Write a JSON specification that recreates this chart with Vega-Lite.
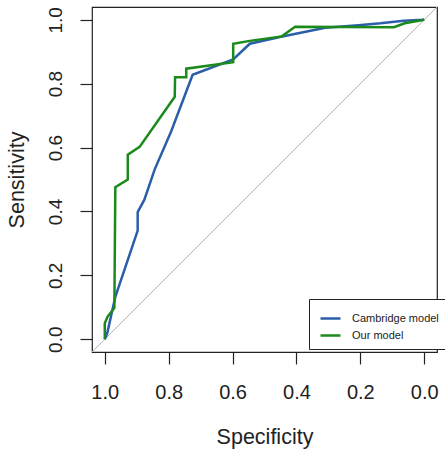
{
  "$schema": "https://vega.github.io/schema/vega-lite/v6.json",
  "width": 345,
  "height": 345,
  "autosize": {"type": "none"},
  "padding": {"left": 92, "top": 7, "right": 8, "bottom": 102},
  "background": "white",
  "config": {
    "font": "Liberation Sans",
    "view": {"stroke": "#222222", "strokeWidth": 1.2},
    "axis": {"grid": false, "domain": false, "tickColor": "#222222", "tickSize": 12, "tickWidth": 1.2, "labelColor": "#222222", "titleColor": "#222222", "labelFont": "Liberation Sans", "titleFont": "Liberation Sans", "titleFontWeight": "normal"}
  },
  "datasets": {
    "roc": [
      {"model": "Cambridge model", "i": 1, "spec": 1.0, "sens": 0.0},
      {"model": "Cambridge model", "i": 2, "spec": 0.992, "sens": 0.02},
      {"model": "Cambridge model", "i": 3, "spec": 0.967, "sens": 0.133},
      {"model": "Cambridge model", "i": 4, "spec": 0.897, "sens": 0.34},
      {"model": "Cambridge model", "i": 5, "spec": 0.897, "sens": 0.398},
      {"model": "Cambridge model", "i": 6, "spec": 0.876, "sens": 0.437},
      {"model": "Cambridge model", "i": 7, "spec": 0.844, "sens": 0.531},
      {"model": "Cambridge model", "i": 8, "spec": 0.792, "sens": 0.651},
      {"model": "Cambridge model", "i": 9, "spec": 0.725, "sens": 0.828},
      {"model": "Cambridge model", "i": 10, "spec": 0.598, "sens": 0.876},
      {"model": "Cambridge model", "i": 11, "spec": 0.546, "sens": 0.925},
      {"model": "Cambridge model", "i": 12, "spec": 0.448, "sens": 0.947},
      {"model": "Cambridge model", "i": 13, "spec": 0.31, "sens": 0.975},
      {"model": "Cambridge model", "i": 14, "spec": 0.206, "sens": 0.983},
      {"model": "Cambridge model", "i": 15, "spec": 0.137, "sens": 0.989},
      {"model": "Cambridge model", "i": 16, "spec": 0.064, "sens": 0.997},
      {"model": "Cambridge model", "i": 17, "spec": 0.0, "sens": 1.0},
      {"model": "Our model", "i": 1, "spec": 1.0, "sens": 0.0},
      {"model": "Our model", "i": 2, "spec": 1.0, "sens": 0.05},
      {"model": "Our model", "i": 3, "spec": 0.991, "sens": 0.071},
      {"model": "Our model", "i": 4, "spec": 0.97, "sens": 0.098},
      {"model": "Our model", "i": 5, "spec": 0.967, "sens": 0.476},
      {"model": "Our model", "i": 6, "spec": 0.928, "sens": 0.5},
      {"model": "Our model", "i": 7, "spec": 0.928, "sens": 0.578},
      {"model": "Our model", "i": 8, "spec": 0.891, "sens": 0.602},
      {"model": "Our model", "i": 9, "spec": 0.781, "sens": 0.759},
      {"model": "Our model", "i": 10, "spec": 0.78, "sens": 0.82},
      {"model": "Our model", "i": 11, "spec": 0.745, "sens": 0.82},
      {"model": "Our model", "i": 12, "spec": 0.745, "sens": 0.847},
      {"model": "Our model", "i": 13, "spec": 0.598, "sens": 0.867},
      {"model": "Our model", "i": 14, "spec": 0.598, "sens": 0.925},
      {"model": "Our model", "i": 15, "spec": 0.546, "sens": 0.934},
      {"model": "Our model", "i": 16, "spec": 0.446, "sens": 0.948},
      {"model": "Our model", "i": 17, "spec": 0.404, "sens": 0.978},
      {"model": "Our model", "i": 18, "spec": 0.095, "sens": 0.977},
      {"model": "Our model", "i": 19, "spec": 0.061, "sens": 0.989},
      {"model": "Our model", "i": 20, "spec": 0.0, "sens": 1.0}
    ],
    "diag": [
      {"spec": 1.04, "sens": -0.04},
      {"spec": -0.04, "sens": 1.04}
    ]
  },
  "layer": [
    {
      "data": {"name": "diag"},
      "mark": {"type": "line", "color": "#b8b8b8", "strokeWidth": 1, "clip": true},
      "encoding": {
        "x": {"field": "spec", "type": "quantitative"},
        "y": {"field": "sens", "type": "quantitative"}
      }
    },
    {
      "data": {"name": "roc"},
      "mark": {"type": "line", "strokeWidth": 2.5, "clip": true},
      "encoding": {
        "x": {
          "field": "spec", "type": "quantitative",
          "scale": {"domain": [-0.04, 1.04], "reverse": true, "nice": false, "zero": false},
          "axis": {"values": [0, 0.2, 0.4, 0.6, 0.8, 1.0], "format": ".1f", "title": "Specificity", "labelFontSize": 20, "labelPadding": 18, "titleFontSize": 21.5, "titleY": 91, "titleBaseline": "alphabetic"}
        },
        "y": {
          "field": "sens", "type": "quantitative",
          "scale": {"domain": [-0.04, 1.04], "nice": false, "zero": false},
          "axis": {"values": [0, 0.2, 0.4, 0.6, 0.8, 1.0], "format": ".1f", "title": "Sensitivity", "labelFontSize": 19, "labelAngle": -90, "labelAlign": "center", "labelBaseline": "middle", "labelPadding": 25, "titleFontSize": 21.5, "titleAngle": -90, "titleX": -69, "titleY": 172.5, "titleAlign": "center", "titleBaseline": "alphabetic"}
        },
        "color": {
          "field": "model", "type": "nominal",
          "scale": {"domain": ["Cambridge model", "Our model"], "range": ["#2a5ea8", "#1a8a1a"]},
          "legend": {"title": null, "orient": "none", "legendX": 217, "legendY": 292, "strokeColor": "#222222", "fillColor": "white", "padding": 8, "symbolOffset": 2, "symbolType": "stroke", "symbolSize": 400, "symbolStrokeWidth": 2.5, "labelFontSize": 11, "labelOffset": 10, "labelColor": "#222222", "rowPadding": -3, "labelLimit": 200}
        },
        "order": {"field": "i", "type": "quantitative"}
      }
    }
  ]
}
